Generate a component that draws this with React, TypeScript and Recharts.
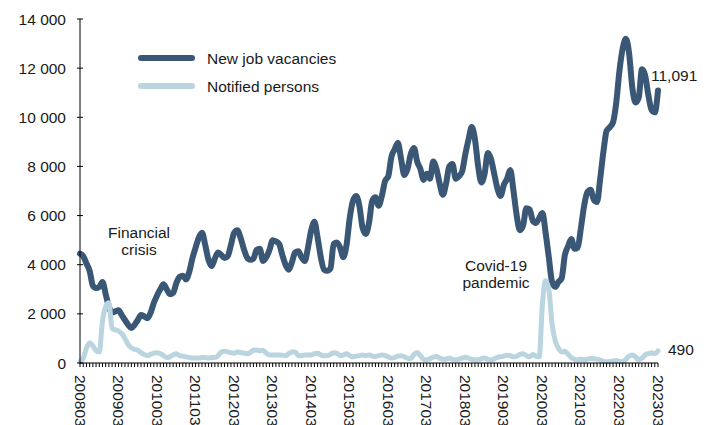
import React from 'react';
import { LineChart, Line, XAxis, YAxis, Customized } from 'recharts';

const START_YEAR = 2008;
const START_MONTH = 3;

const vacancies: number[] = [
  4450, 4350, 4050, 3750, 3150, 3050, 3100, 3300, 2800, 2300, 2050, 2100,
  2150, 1950, 1750, 1550, 1420, 1550, 1750, 1950, 1900, 1820, 2050, 2450,
  2750, 3000, 3200, 3000, 2800, 2850, 3250, 3500, 3550, 3400, 3700, 4250,
  4700, 5100, 5300, 4800, 4200, 3950, 4250, 4500, 4400, 4270, 4350, 4800,
  5300, 5400, 5100, 4650, 4300, 4200, 4250, 4600, 4650, 4150, 4300, 4600,
  5000, 4950, 4850, 4400, 4000, 3800, 4100, 4500, 4550, 4300, 4150, 4700,
  5400, 5750, 5100, 4300, 3800, 3750, 3850, 4850, 4900, 4700, 4300, 4800,
  5900, 6600, 6800, 6400, 5500, 5250, 5700, 6600, 6750, 6400, 6800, 7400,
  7600, 8400, 8700, 8950, 8300, 7650, 7900, 8500, 8750, 8200, 7900, 7450,
  7700, 7500, 8200, 7900, 7300, 6850, 7300, 8000, 8100, 7500, 7600, 7800,
  8500, 9100, 9600, 9100, 8000, 7350, 7700, 8550, 8300, 7700, 7100, 6800,
  7250, 7500, 7850, 7000, 6000, 5400, 5600, 6300, 6250, 5800, 5700, 5900,
  6100, 5300, 4300, 3300, 3100, 3300, 3450, 4400, 4750, 5050, 4650, 4700,
  5500, 6400, 6950, 7050, 6650, 6550, 7500, 8600, 9450, 9600, 9800, 10600,
  11900, 12800, 13200, 12600, 11200, 10600, 10800, 11950, 11700, 10900, 10300, 10200,
  11091,
];

const notified: number[] = [
  50, 200, 600, 820, 700, 500, 450, 1700, 2300, 2450, 1400, 1350,
  1300, 1200, 1000, 750, 620, 550, 520, 420, 350, 300, 350, 400,
  420, 380, 300, 220, 250, 330, 380, 300, 280, 250, 230, 200,
  200, 200, 220, 220, 200, 220, 220, 300, 450, 480, 450, 420,
  400, 450, 430, 400, 380, 420, 520, 530, 500, 520, 400, 330,
  330, 330, 330, 320, 300, 380, 450, 450, 300, 300, 330, 330,
  330, 380, 400, 330, 300, 300, 350, 420, 400, 300, 320, 380,
  300, 250, 280, 300, 330, 300, 330, 280, 260, 300, 330, 300,
  250, 200, 220, 280, 300, 250, 200, 180, 350, 430, 300, 150,
  130, 180, 240, 260, 200, 150, 160, 200, 150, 130, 150, 200,
  230, 200, 150, 120, 130, 180, 200, 150, 130, 170, 230, 260,
  280, 320, 300, 250, 280, 350, 380, 300, 250, 350, 280, 250,
  2400, 3350, 3000, 1600, 900, 600, 450, 480, 350, 220, 150, 130,
  150, 130, 150, 180, 170, 150, 120, 60, 50, 60, 80, 100,
  60, 50, 150, 280, 330, 250, 130, 200, 330, 380, 420, 380,
  490,
];

const yTicks: number[] = [0, 2000, 4000, 6000, 8000, 10000, 12000, 14000];

const SERIES_NAMES = ['New job vacancies', 'Notified persons'];
const ANNOTATIONS = [
  { lines: ['Financial', 'crisis'] },
  { lines: ['Covid-19', 'pandemic'] },
];

const DARK = '#3a5776';
const LIGHT = '#bad4e0';
const TEXT = '#1a1a1a';
const FONT = '"Liberation Sans", Arial, sans-serif';
const FS = 15.5;

const periods: string[] = vacancies.map((_, i) => {
  const m0 = START_MONTH - 1 + i;
  const y = START_YEAR + Math.floor(m0 / 12);
  const m = (m0 % 12) + 1;
  return `${y}${m < 10 ? '0' : ''}${m}`;
});

const data = periods.map((p, i) => ({ period: p, vacancies: vacancies[i], notified: notified[i] }));

const fmtSpace = (v: number) => String(v).replace(/\B(?=(\d{3})+(?!\d))/g, ' ');

const XTick = (props: any) => {
  const { x, y, index, payload } = props;
  if (index % 12 !== 0) return <g />;
  return (
    <text
      x={x}
      y={y}
      transform={`rotate(90, ${x}, ${y})`}
      textAnchor="start"
      dominantBaseline="central"
      fill={TEXT}
      fontSize={FS}
      fontFamily={FONT}
    >
      {payload.value}
    </text>
  );
};

const YTick = (props: any) => {
  const { x, y, payload } = props;
  return (
    <g>
      <line x1={x + 11} x2={x + 17} y1={y} y2={y} stroke="#000" strokeWidth={1} />
      <text x={x} y={y} textAnchor="end" dominantBaseline="central" fill={TEXT} fontSize={FS} fontFamily={FONT}>
        {fmtSpace(payload.value)}
      </text>
    </g>
  );
};

const LegendLayer = () => (
  <g fontFamily={FONT} fontSize={FS} fill={TEXT}>
    {SERIES_NAMES.map((name, i) => (
      <g key={name}>
        <line x1={141} x2={192} y1={58 + i * 28} y2={58 + i * 28} stroke={i === 0 ? DARK : LIGHT} strokeWidth={6} strokeLinecap="round" />
        <text x={207} y={58 + i * 28} dominantBaseline="central">{name}</text>
      </g>
    ))}
  </g>
);

const endLabel = (dataKey: 'vacancies' | 'notified') => (props: any) => {
  const { x, y, index, value } = props;
  if (index !== data.length - 1) return <g />;
  const text = Number(value).toLocaleString('en-US');
  const dx = dataKey === 'vacancies' ? -7 : 10;
  const dy = dataKey === 'vacancies' ? -15 : -1;
  return (
    <text x={x + dx} y={y + dy} textAnchor="start" dominantBaseline="central" fill={TEXT} fontSize={FS} fontFamily={FONT}>
      {text}
    </text>
  );
};

const Annotations = () => (
  <g fontFamily={FONT} fontSize={FS} fill={TEXT} textAnchor="middle">
    <text x={139} y={232} dominantBaseline="central">{ANNOTATIONS[0].lines[0]}</text>
    <text x={139} y={249} dominantBaseline="central">{ANNOTATIONS[0].lines[1]}</text>
    <text x={496} y={265} dominantBaseline="central">{ANNOTATIONS[1].lines[0]}</text>
    <text x={496} y={282} dominantBaseline="central">{ANNOTATIONS[1].lines[1]}</text>
  </g>
);

export default function App() {
  return (
    <div style={{ position: 'absolute', left: 0, top: 0, width: 716, height: 425, background: '#fff' }}>
      <LineChart width={716} height={425} data={data} margin={{ top: 19, right: 58, bottom: 0, left: 0 }}>
        <XAxis
          dataKey="period"
          interval={0}
          height={62}
          tick={<XTick />}
          tickSize={4}
          tickMargin={8}
          tickLine={{ stroke: '#000', strokeWidth: 1 }}
          axisLine={{ stroke: '#000', strokeWidth: 1 }}
        />
        <YAxis
          width={80}
          domain={[0, 14000]}
          ticks={yTicks}
          interval={0}
          tick={<YTick />}
          tickSize={0}
          tickMargin={14}
          tickLine={false}
          axisLine={{ stroke: '#000', strokeWidth: 1 }}
        />
        <Line
          type="monotone"
          dataKey="vacancies"
          name={SERIES_NAMES[0]}
          stroke={DARK}
          strokeWidth={6}
          strokeLinecap="round"
          strokeLinejoin="round"
          dot={false}
          isAnimationActive={false}
          label={endLabel('vacancies')}
        />
        <Line
          type="monotone"
          dataKey="notified"
          name={SERIES_NAMES[1]}
          stroke={LIGHT}
          strokeWidth={5}
          strokeLinecap="round"
          strokeLinejoin="round"
          dot={false}
          isAnimationActive={false}
          label={endLabel('notified')}
        />
        <Customized component={LegendLayer} />
        <Customized component={Annotations} />
      </LineChart>
    </div>
  );
}
